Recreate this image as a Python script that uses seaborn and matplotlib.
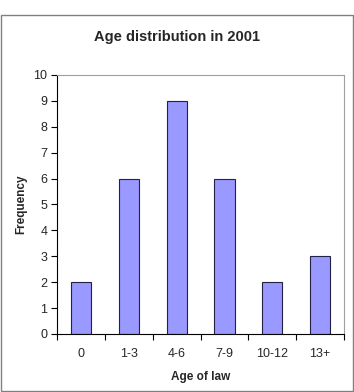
import numpy as np
import pandas as pd
import matplotlib
matplotlib.use("Agg")
import matplotlib.pyplot as plt
import seaborn as sns
from matplotlib.patches import Rectangle

ages = ["0", "1-3", "4-6", "7-9", "10-12", "13+"]
freq = [2, 6, 9, 6, 2, 3]

df = pd.DataFrame({"age": ages, "freq": freq})

sns.set_style("white")
plt.rcParams['font.family'] = ['Liberation Sans', 'DejaVu Sans']

fig = plt.figure(figsize=(3.54, 3.92), dpi=100)
# outer chart frame
fig.patches.append(Rectangle((0.004, 0.003), 0.992, 0.959, transform=fig.transFigure,
                             fill=False, edgecolor="#808080", linewidth=1.0))
ax = fig.add_axes([0.161, 0.148, 0.811, 0.661])

sns.barplot(data=df, x="age", y="freq", color="#9999FF", saturation=1,
            edgecolor="#222244", linewidth=0.8, width=0.42, ax=ax)

ax.set_ylim(0, 10)
ax.set_xlim(-0.5, 5.5)
ax.set_yticks(range(0, 11))
ax.set_xticks(np.arange(-0.5, 6.0, 1.0), minor=True)
ax.tick_params(axis="x", which="major", length=0, pad=10, labelsize=9)
ax.tick_params(axis="x", which="minor", length=4, width=0.8, color="black", direction="out")
ax.tick_params(axis="y", length=4, width=0.8, color="black", direction="out", labelsize=9, pad=3)
ax.xaxis.set_ticks_position("bottom")
ax.yaxis.set_ticks_position("left")

for side in ["left", "bottom"]:
    ax.spines[side].set_color("black")
    ax.spines[side].set_linewidth(0.8)
for side in ["top", "right"]:
    ax.spines[side].set_color("#a0a0a0")
    ax.spines[side].set_linewidth(0.8)

ax.set_xlabel("Age of law", fontsize=8.5, fontweight="bold", labelpad=8)
ax.set_ylabel("Frequency", fontsize=8.5, fontweight="bold")
ax.yaxis.set_label_coords(-0.105, 0.5)
fig.text(0.5, 0.905, "Age distribution in 2001", ha="center", va="center",
         fontsize=10.5, fontweight="bold")

fig.savefig("out.png", dpi=100)
